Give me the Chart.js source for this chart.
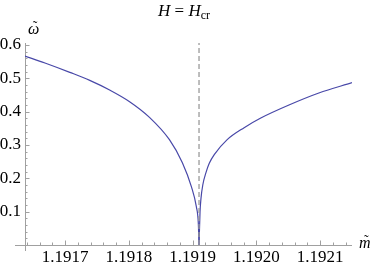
<!DOCTYPE html>
<html>
<head>
<meta charset="utf-8">
<script src="https://cdn.jsdelivr.net/npm/chart.js@4/dist/chart.umd.min.js"></script>
<style>
  html, body { margin: 0; padding: 0; background: #fff; }
  #wrap { width: 374px; height: 266px; }
</style>
</head>
<body>
<div id="wrap"><canvas id="plot"></canvas></div>
<script>
// left branch of omega(m)
const leftM = [1.191637, 1.1916683, 1.1917073, 1.1917386, 1.1917698, 1.1918011, 1.1918323, 1.1918636, 1.1918839, 1.191898, 1.1919058, 1.1919089, 1.19191];
const leftOmega = [0.567, 0.546, 0.518, 0.494, 0.465, 0.430, 0.383, 0.316, 0.247, 0.175, 0.115, 0.065, 0];

// right branch
const rightM = [1.19191, 1.1919116, 1.1919131, 1.1919159, 1.1919209, 1.1919261, 1.1919339, 1.1919542, 1.1919808, 1.1920069, 1.1920511, 1.192098, 1.19215];
const rightOmega = [0, 0.100, 0.140, 0.180, 0.217, 0.245, 0.271, 0.316, 0.352, 0.381, 0.420, 0.456, 0.487];

// dashed line at the critical m
const critM = [1.19191, 1.19191];
const critOmega = [0, 0.606];

const xTicks = [1.1917, 1.1918, 1.1919, 1.1920, 1.1921];
const yTicks = [0.1, 0.2, 0.3, 0.4, 0.5, 0.6];

const xMin = 1.191637, xMax = 1.19215;
const yMin = 0, yMax = 0.606;

const serif = "'Liberation Serif', 'Times New Roman', serif";
const axisGray = "#a0a0a0";

Chart.defaults.font.family = serif;
Chart.defaults.font.size = 17;
Chart.defaults.color = "#000";

const pts = (xs, ys) => xs.map((x, i) => ({ x: x, y: ys[i] }));

// letter with a tilde on top, e.g. omega-tilde
function tildeLabel(ctx, ch, x, y, lift) {
  ctx.font = "italic 16px " + serif;
  const w = ctx.measureText(ch).width;
  ctx.fillText(ch, x, y);
  ctx.font = "14px " + serif;
  const tw = ctx.measureText("\u02dc").width;
  ctx.fillText("\u02dc", x + w / 2 - tw / 2 + 1.5, y - lift);
}

// axes through the origin, ticks pointing inward (Mathematica style)
const axesPlugin = {
  id: "axes",
  beforeDatasetsDraw(chart) {
    const ctx = chart.ctx;
    const xs = chart.scales.x, ys = chart.scales.y;
    const x0 = xs.getPixelForValue(xMin);
    const y0 = ys.getPixelForValue(0);
    ctx.save();
    ctx.strokeStyle = axisGray;
    ctx.lineWidth = 1;
    ctx.beginPath();
    ctx.moveTo(x0 - 10, y0 + 0.5);
    ctx.lineTo(xs.right, y0 + 0.5);
    ctx.moveTo(x0 + 0.5, ys.top);
    ctx.lineTo(x0 + 0.5, y0 + 6);

    // x ticks
    for (let k = Math.ceil(xMin / 0.00002); k * 0.00002 <= xMax; k++) {
      const v = k * 0.00002;
      const major = k % 5 === 0;
      const px = Math.round(xs.getPixelForValue(v)) + 0.5;
      ctx.moveTo(px, y0);
      ctx.lineTo(px, y0 - (major ? 4.5 : 2.5));
    }
    // y ticks
    for (let k = 1; k * 0.02 <= yMax; k++) {
      const major = k % 5 === 0;
      const py = Math.round(ys.getPixelForValue(k * 0.02)) + 0.5;
      ctx.moveTo(x0, py);
      ctx.lineTo(x0 + (major ? 4.5 : 2.5), py);
    }
    ctx.stroke();
    ctx.restore();
  },
  afterDraw(chart) {
    const ctx = chart.ctx;
    ctx.save();
    ctx.fillStyle = "#000";
    ctx.textBaseline = "alphabetic";

    // title  H = H_cr
    const big = 17, small = 12;
    const parts = [
      { t: "H", f: "italic " + big + "px " + serif, dy: 0 },
      { t: " = ", f: big + "px " + serif, dy: 0 },
      { t: "H", f: "italic " + big + "px " + serif, dy: 0 },
      { t: "cr", f: small + "px " + serif, dy: 3 },
    ];
    let w = 0;
    parts.forEach((p) => { ctx.font = p.f; w += ctx.measureText(p.t).width; });
    let x = 184 - w / 2;
    parts.forEach((p) => {
      ctx.font = p.f;
      ctx.fillText(p.t, x, 16 + p.dy);
      x += ctx.measureText(p.t).width;
    });

    // axis labels
    tildeLabel(ctx, "\u03c9", 28, 34, 3);
    tildeLabel(ctx, "m", 359, 248, 3);
    ctx.restore();
  },
};

new Chart(document.getElementById("plot"), {
  type: "scatter",
  data: {
    datasets: [
      {
        data: pts(critM, critOmega),
        showLine: true,
        borderColor: "#9a9a9a",
        borderWidth: 1.3,
        borderDash: [5, 3],
        pointRadius: 0,
      },
      {
        data: pts(leftM, leftOmega),
        showLine: true,
        borderColor: "#4848a8",
        borderWidth: 1.2,
        pointRadius: 0,
        cubicInterpolationMode: "monotone",
      },
      {
        data: pts(rightM, rightOmega),
        showLine: true,
        borderColor: "#4848a8",
        borderWidth: 1.2,
        pointRadius: 0,
        cubicInterpolationMode: "monotone",
      },
    ],
  },
  options: {
    responsive: true,
    maintainAspectRatio: false,
    animation: false,
    layout: { padding: { top: 43, right: 22, left: 0, bottom: 0 } },
    plugins: {
      legend: { display: false },
      tooltip: { enabled: false },
      title: { display: false },
    },
    scales: {
      x: {
        type: "linear",
        min: xMin,
        max: xMax,
        border: { display: false },
        grid: { display: false, drawTicks: false },
        afterBuildTicks: (axis) => { axis.ticks = xTicks.map((v) => ({ value: v })); },
        afterFit: (axis) => { axis.height = 21; },
        ticks: {
          padding: 2,
          maxRotation: 0,
          autoSkip: false,
          color: "#000",
          font: { family: serif, size: 17 },
          callback: (v) => Number(v).toFixed(4),
        },
      },
      y: {
        type: "linear",
        min: yMin,
        max: yMax,
        border: { display: false },
        grid: { display: false, drawTicks: false },
        afterBuildTicks: (axis) => { axis.ticks = yTicks.map((v) => ({ value: v })); },
        afterFit: (axis) => { axis.width = 25; },
        ticks: {
          padding: 4,
          autoSkip: false,
          color: "#000",
          font: { family: serif, size: 17 },
          callback: (v) => Number(v).toFixed(1),
        },
      },
    },
  },
  plugins: [axesPlugin],
});
</script>
</body>
</html>
